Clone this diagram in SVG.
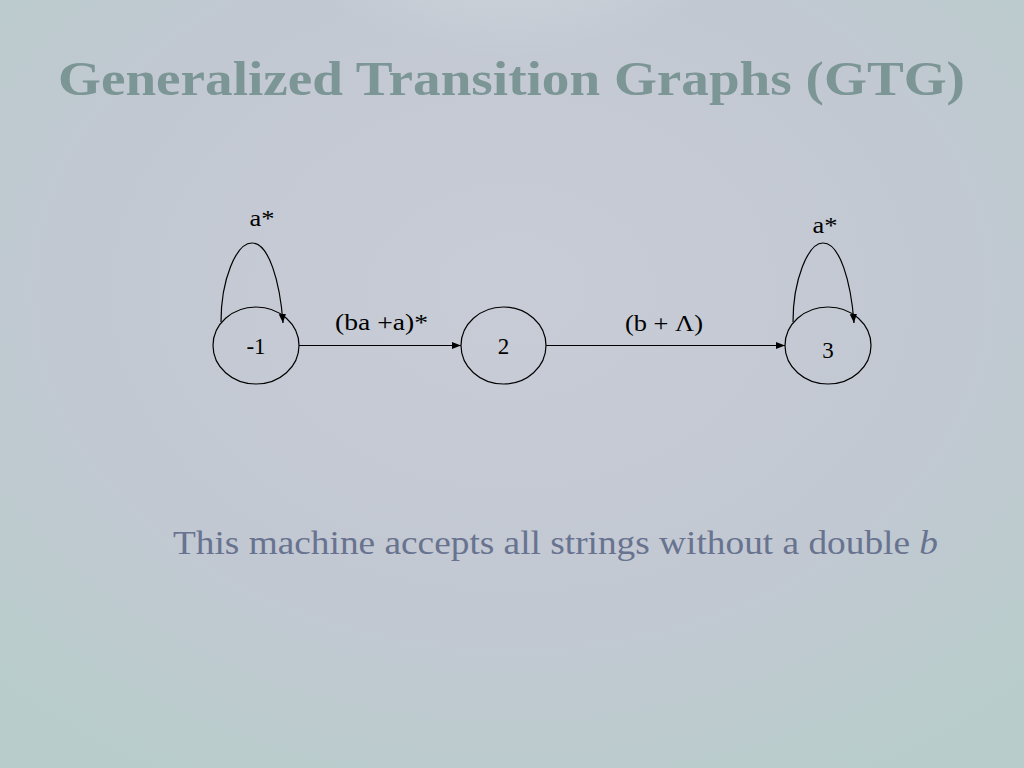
<svg xmlns="http://www.w3.org/2000/svg" width="1024" height="768" viewBox="0 0 1024 768">
<defs>
<radialGradient id="bg" cx="0.5" cy="0.38" r="0.72">
<stop offset="0" stop-color="#c8ccd6"/>
<stop offset="0.6" stop-color="#c2c8d2"/>
<stop offset="1" stop-color="#b8cdcb"/>
</radialGradient>
<radialGradient id="glow" cx="0.5" cy="0.0" r="0.5">
<stop offset="0" stop-color="#d6e2e2" stop-opacity="0.9"/>
<stop offset="1" stop-color="#d6e2e2" stop-opacity="0"/>
</radialGradient>
<marker id="arr" viewBox="0 0 10 10" refX="10" refY="5" markerWidth="9" markerHeight="9" markerUnits="userSpaceOnUse" orient="auto">
<path d="M0,1 L10,5 L0,9 z" fill="#000"/>
</marker>
<style>
.node ellipse{fill:none;stroke:#000;stroke-width:1.2}
.lbl{font-family:"Liberation Serif",serif;font-size:23px;fill:#000;text-anchor:middle}
.edge{fill:none;stroke:#000;stroke-width:1.2;marker-end:url(#arr)}
</style>
</defs>
<rect width="1024" height="768" fill="url(#bg)"/>
<ellipse cx="512" cy="60" rx="260" ry="200" fill="url(#glow)"/>
<text x="58" y="95" font-family="Liberation Serif, serif" font-weight="bold" font-size="49" fill="#7c9595" textLength="907" lengthAdjust="spacingAndGlyphs">Generalized Transition Graphs (GTG)</text>
<g id="connectors">
<path class="edge" d="M221,322 C221,280 236,243 252,243 C269,243 280,282 283,323"/>
<line class="edge" x1="299" y1="345.5" x2="461" y2="345.5"/>
<line class="edge" x1="546" y1="345.5" x2="785" y2="345.5"/>
<path class="edge" d="M793,322 C793,280 808,243 823,243 C840,243 851,282 854,323"/>
<text class="lbl" x="262" y="226" textLength="25" lengthAdjust="spacingAndGlyphs">a*</text>
<text class="lbl" x="381.5" y="330" textLength="93" lengthAdjust="spacingAndGlyphs">(ba +a)*</text>
<text class="lbl" x="664" y="331" textLength="78" lengthAdjust="spacingAndGlyphs">(b + Λ)</text>
<text class="lbl" x="825" y="233" textLength="25" lengthAdjust="spacingAndGlyphs">a*</text>
</g>
<g id="node-1" class="node">
<ellipse cx="256" cy="345.5" rx="43" ry="38.5"/>
<text class="lbl" x="256" y="354">-1</text>
</g>
<g id="node-2" class="node">
<ellipse cx="503.5" cy="345.5" rx="42.5" ry="38.5"/>
<text class="lbl" x="503.5" y="354">2</text>
</g>
<g id="node-3" class="node">
<ellipse cx="828" cy="345.5" rx="43" ry="38.5"/>
<text class="lbl" x="828" y="358">3</text>
</g>
<text x="173" y="554" font-family="Liberation Serif, serif" font-size="34" fill="#687390" textLength="765" lengthAdjust="spacingAndGlyphs">This machine accepts all strings without a double <tspan font-style="italic">b</tspan></text>
</svg>
